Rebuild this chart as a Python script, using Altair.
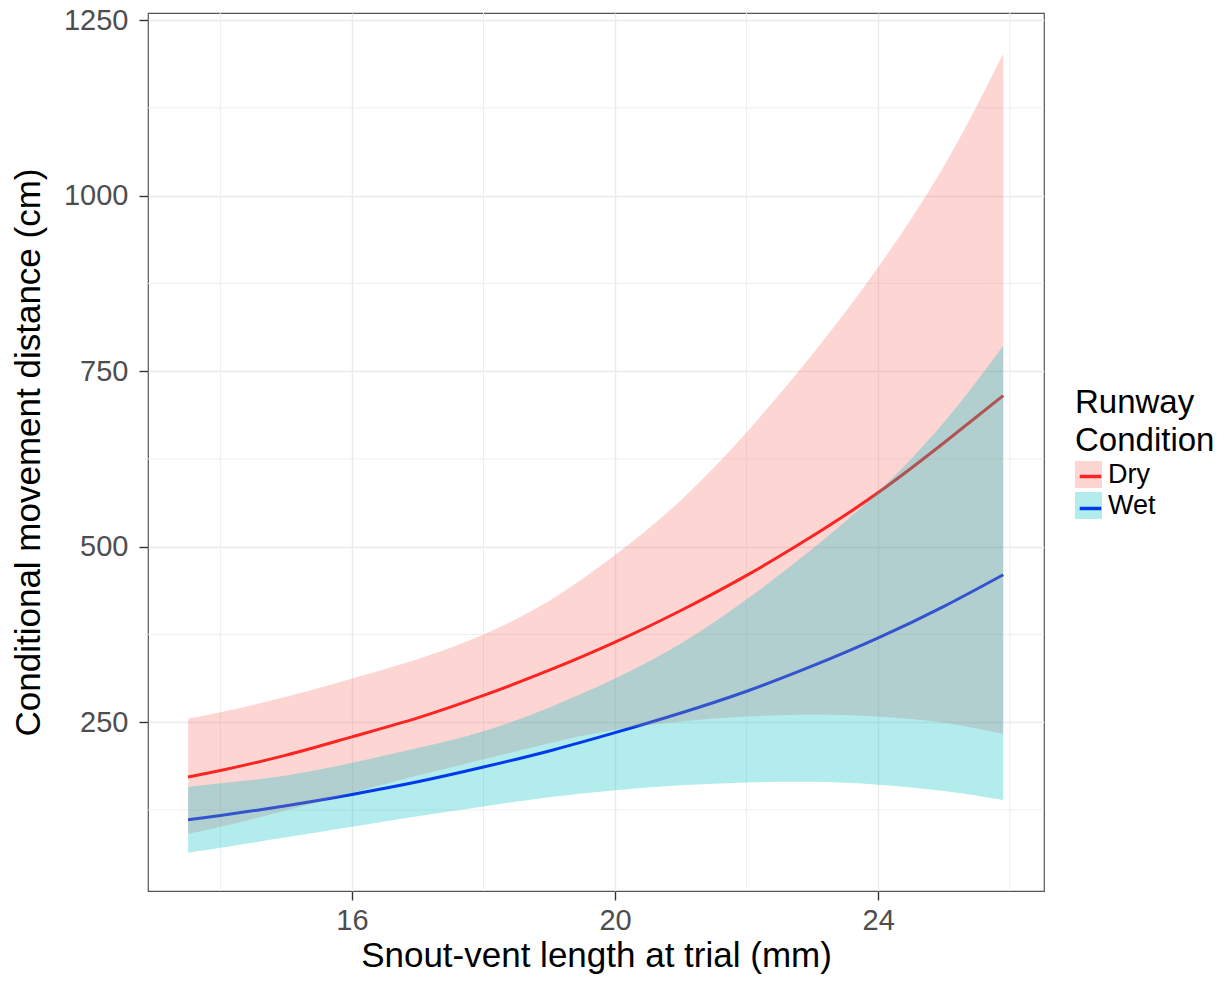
import altair as alt
import pandas as pd

# ---- data ----
svl = [13.51, 14, 15, 16, 17, 18, 19, 20, 21, 22, 23, 24, 25, 25.9]
dry_fit = [172, 181, 203, 229, 256, 288, 324, 364, 409, 459, 515, 577, 648, 715]
dry_lo = [91, 101, 124, 149, 174, 197, 220, 239, 251, 258, 261, 258, 249, 233]
dry_hi = [255, 264, 286, 312, 340, 375, 423, 488, 566, 663, 774, 898, 1042, 1202]
wet_fit = [111, 117, 131, 147, 165, 186, 209, 235, 263, 294, 330, 370, 415, 460]
wet_lo = [64, 71, 86, 101, 116, 130, 143, 153, 160, 164, 165, 161, 152, 139]
wet_hi = [158, 163, 174, 192, 213, 237, 271, 312, 362, 425, 497, 578, 677, 786]

conditions = ["Dry", "Wet"]
x_ticks = [16, 20, 24]
y_ticks = [250, 500, 750, 1000, 1250]
minor_x = [14, 18, 22, 26]
minor_y = [125, 375, 625, 875, 1125]

rows = []
for cond, fit, lo, hi in [("Dry", dry_fit, dry_lo, dry_hi), ("Wet", wet_fit, wet_lo, wet_hi)]:
    for x, f, l, h in zip(svl, fit, lo, hi):
        rows.append({"svl": x, "fit": f, "lo": l, "hi": h, "Condition": cond})
df = pd.DataFrame(rows)

FONT = "Liberation Sans"
xscale = alt.Scale(domain=[12.9, 26.52], nice=False, zero=False)
yscale = alt.Scale(domain=[9.5, 1260], nice=False, zero=False)

common_axis = dict(
    grid=True, gridColor="#EBEBEB", gridWidth=1.4, domain=False,
    tickColor="#333333", tickSize=9, tickWidth=1.4,
    labelFont=FONT, labelFontSize=29, labelColor="#4D4D4D",
    titleFont=FONT, titleFontSize=35, titleColor="black", titleFontWeight="normal",
    format="d",
)
xaxis = alt.Axis(values=x_ticks, title="Snout-vent length at trial (mm)",
                 labelPadding=6, titlePadding=3, **common_axis)
yaxis = alt.Axis(values=y_ticks, title="Conditional movement distance (cm)",
                 labelPadding=11, titlePadding=17, **common_axis)

leg_common = dict(
    title=["Runway", "Condition"], orient="none", legendX=927, legendY=374,
    symbolSize=729, titleFont=FONT, titleFontSize=33, titleFontWeight="normal",
    titleLineHeight=38, titlePadding=3, labelFont=FONT, labelFontSize=27,
    rowPadding=3, labelOffset=6, padding=0,
)
leg_fill = alt.Legend(symbolType="square", symbolOpacity=0.3, symbolStrokeWidth=0,
                      titleColor="black", labelColor="black", **leg_common)
leg_line = alt.Legend(symbolType="M-0.8,0H0.8", symbolStrokeWidth=3.5,
                      titleColor="transparent", labelColor="transparent",
                      labelExpr="''", **leg_common)

minor_x_layer = alt.Chart(pd.DataFrame({"v": minor_x})).mark_rule(
    color="#EEEEEE", strokeWidth=1).encode(x=alt.X("v:Q", scale=xscale, axis=xaxis))
minor_y_layer = alt.Chart(pd.DataFrame({"v": minor_y})).mark_rule(
    color="#EEEEEE", strokeWidth=1).encode(y=alt.Y("v:Q", scale=yscale, axis=yaxis))

lines = alt.Chart(df).transform_calculate(Runway="datum.Condition").mark_line(
    strokeWidth=3, interpolate="natural").encode(
    x=alt.X("svl:Q", scale=xscale, axis=xaxis),
    y=alt.Y("fit:Q", scale=yscale, axis=yaxis),
    stroke=alt.Stroke("Runway:N", scale=alt.Scale(range=["#FF0000", "#0000FF"]), legend=leg_line),
)

ribbons = alt.Chart(df).mark_area(opacity=0.3, interpolate="natural").encode(
    x=alt.X("svl:Q", scale=xscale, axis=xaxis),
    y=alt.Y("lo:Q", scale=yscale, axis=yaxis),
    y2="hi:Q",
    fill=alt.Fill("Condition:N", scale=alt.Scale(range=["#F8766D", "#00BFC4"]), legend=leg_fill),
)

chart = alt.layer(minor_x_layer, minor_y_layer, lines, ribbons).properties(
    width=896, height=878,
    autosize=alt.AutoSizeParams(type="none"),
    padding={"left": 140, "top": 5, "right": 175, "bottom": 85},
    background="white",
).configure_view(stroke="#555555", strokeWidth=1.2)

chart.save("out.html", embed_options={"renderer": "svg", "actions": False})
